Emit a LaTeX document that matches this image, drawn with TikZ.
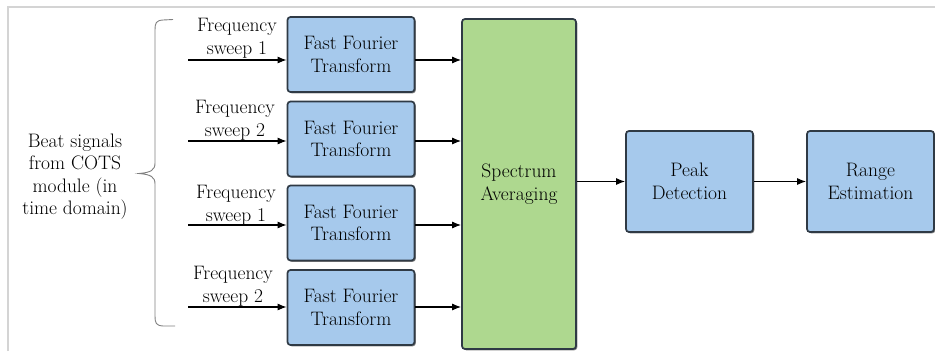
\documentclass[tikz,border=0pt]{standalone}
\usetikzlibrary{arrows.meta,shadows}
\definecolor{boxblue}{HTML}{A6C9EC}
\definecolor{boxgreen}{HTML}{AED88F}
\definecolor{edgecol}{HTML}{2F3A45}
\definecolor{framecol}{HTML}{D4D4D4}
\definecolor{bracecol}{HTML}{808080}
\begin{document}
\begin{tikzpicture}[x=1pt,y=-1pt,
  txt/.style={font=\fontsize{19.5}{22.5}\selectfont, align=center, inner sep=0pt, text=black},
  blk/.style={txt, draw=edgecol, line width=1.7pt, rounded corners=3pt, fill=boxblue,
     drop shadow={shadow xshift=1.3pt, shadow yshift=-1.3pt, fill=black!70, opacity=0.7}},
  fftbox/.style={blk, minimum width=127pt, minimum height=75pt},
  arr/.style={-{Latex[length=9pt,width=7pt]}, line width=1.1pt, black}
]
\useasboundingbox (0,0) rectangle (935,351);
\fill[white] (0,0) rectangle (935,351);
% frame
\draw[framecol, line width=1.2pt] (8,351) -- (8,7) -- (935,7);

% left label
\node[txt] (beat) at (75,176.5) {Beat signals\\from COTS\\module (in\\time domain)};

% brace
\draw[bracecol, line width=0.9pt]
  (173,19.5) -- (163,20) .. controls (156,20.5) and (155,23) .. (155,30)
  -- (155,163) .. controls (155,170) and (151,172.5) .. (139,173.5)
  .. controls (151,174.5) and (155,177) .. (155,184)
  -- (155,316) .. controls (155,323) and (156,325.5) .. (163,326) -- (175,326);

% FFT boxes
\node[fftbox] (f1) at (351,54.5) {Fast Fourier\\Transform};
\node[fftbox] (f2) at (351,139) {Fast Fourier\\Transform};
\node[fftbox] (f3) at (351,223) {Fast Fourier\\Transform};
\node[fftbox] (f4) at (351,307.5) {Fast Fourier\\Transform};

% spectrum averaging
\node[blk, fill=boxgreen, minimum width=114pt, minimum height=330pt] (sa) at (519,184) {Spectrum\\Averaging};

% peak and range
\node[blk, minimum width=127pt, minimum height=101pt] (pd) at (689.5,181.5) {Peak\\Detection};
\node[blk, minimum width=127pt, minimum height=101pt] (re) at (870.5,181.5) {Range\\Estimation};

% inputs
\coordinate (i1) at (188,60);
\coordinate (i2) at (188,141);
\coordinate (i3) at (188,225);
\coordinate (i4) at (188,307);

\node[txt] (l1) at (237,38.5) {Frequency\\sweep 1};
\node[txt] (l2) at (235,120.5) {Frequency\\sweep 2};
\node[txt] (l3) at (236,205.5) {Frequency\\sweep 1};
\node[txt] (l4) at (233,286.5) {Frequency\\sweep 2};

\draw[arr] (i1) -- (i1 -| f1.west);
\draw[arr] (i2) -- (i2 -| f2.west);
\draw[arr] (i3) -- (i3 -| f3.west);
\draw[arr] (i4) -- (i4 -| f4.west);

\draw[arr] (i1 -| f1.east) -- (i1 -| sa.west);
\draw[arr] (i2 -| f2.east) -- (i2 -| sa.west);
\draw[arr] (i3 -| f3.east) -- (i3 -| sa.west);
\draw[arr] (i4 -| f4.east) -- (i4 -| sa.west);

\draw[arr] (sa.east |- pd.west) -- (pd.west);
\draw[arr] (pd.east) -- (re.west);
\end{tikzpicture}
\end{document}
